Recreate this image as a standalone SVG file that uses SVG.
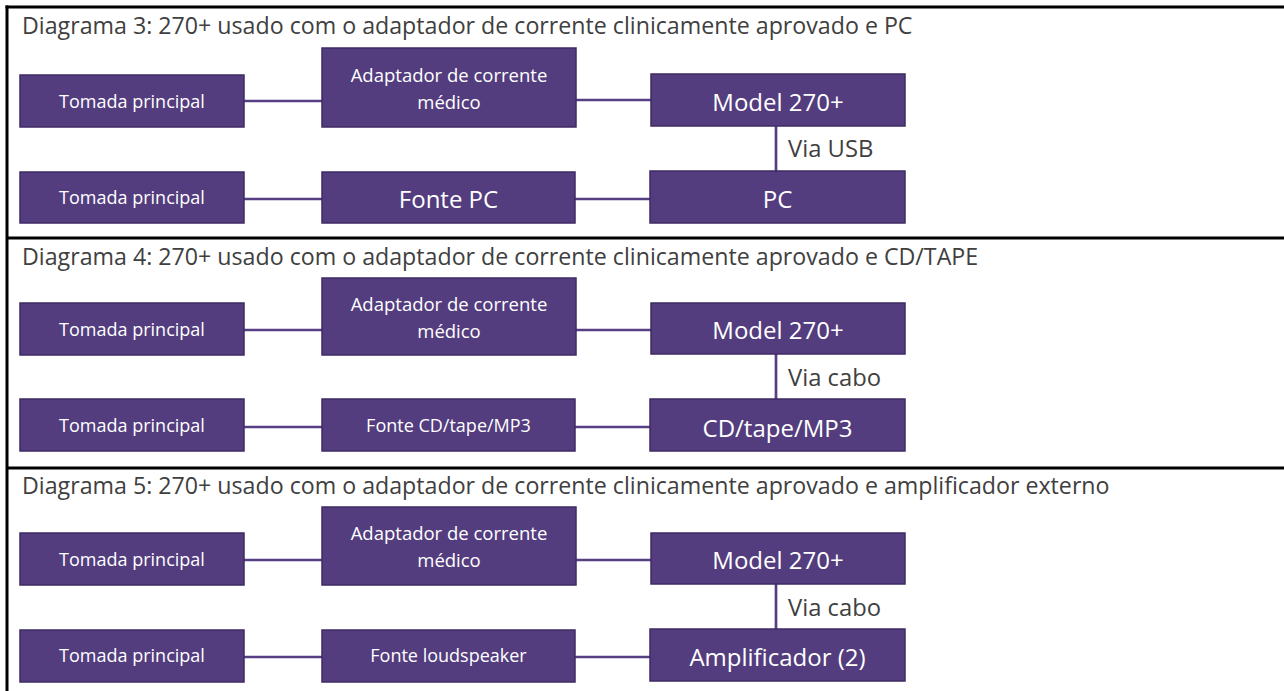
<svg xmlns="http://www.w3.org/2000/svg" width="1284" height="691" viewBox="0 0 1284 691">
<style>
.grid{stroke:#000;stroke-width:3;fill:none}
.box{fill:#533D7E;stroke:#3E2B64;stroke-width:1.5}
.conn{stroke:#563F82;stroke-width:2.7;fill:none}
.title{font-family:"Open Sans","Liberation Sans",sans-serif;font-size:23.2px;fill:#404040}
.via{font-family:"Open Sans","Liberation Sans",sans-serif;font-size:23.8px;fill:#404040}
.s{font-family:"Open Sans","Liberation Sans",sans-serif;font-size:18px;fill:#fff;text-anchor:middle}
.a{font-family:"Open Sans","Liberation Sans",sans-serif;font-size:18.5px;fill:#fff;text-anchor:middle}
.l{font-family:"Open Sans","Liberation Sans",sans-serif;font-size:24px;fill:#fff;text-anchor:middle}
</style>
<rect width="1284" height="691" fill="#fff"/>
<g id="grid">
<line class="grid" x1="5.5" y1="7" x2="1284" y2="7"/>
<line class="grid" x1="7" y1="5.5" x2="7" y2="691"/>
<line class="grid" x1="7" y1="238" x2="1284" y2="238"/>
<line class="grid" x1="7" y1="468" x2="1284" y2="468"/>
</g>
<g id="connectors">
<line class="conn" x1="244" y1="101" x2="322" y2="101"/>
<line class="conn" x1="576" y1="100" x2="651" y2="100"/>
<line class="conn" x1="776" y1="125" x2="776" y2="171"/>
<line class="conn" x1="244" y1="199" x2="322" y2="199"/>
<line class="conn" x1="575" y1="199" x2="650" y2="199"/>
<line class="conn" x1="244" y1="330" x2="322" y2="330"/>
<line class="conn" x1="576" y1="330" x2="651" y2="330"/>
<line class="conn" x1="776" y1="354" x2="776" y2="400"/>
<line class="conn" x1="244" y1="427" x2="322" y2="427"/>
<line class="conn" x1="575" y1="427" x2="650" y2="427"/>
<line class="conn" x1="244" y1="560" x2="322" y2="560"/>
<line class="conn" x1="576" y1="560" x2="651" y2="560"/>
<line class="conn" x1="776" y1="584" x2="776" y2="630"/>
<line class="conn" x1="244" y1="657" x2="322" y2="657"/>
<line class="conn" x1="575" y1="657" x2="650" y2="657"/>
</g>
<g id="labels">
<text class="title" x="22" y="34">Diagrama 3: 270+ usado com o adaptador de corrente clinicamente aprovado e PC</text>
<text class="title" x="22" y="265">Diagrama 4: 270+ usado com o adaptador de corrente clinicamente aprovado e CD/TAPE</text>
<text class="title" x="22" y="494">Diagrama 5: 270+ usado com o adaptador de corrente clinicamente aprovado e amplificador externo</text>
<text class="via" x="788" y="157">Via USB</text>
<text class="via" x="788" y="386">Via cabo</text>
<text class="via" x="788" y="616">Via cabo</text>
</g>
<g id="d3-tomada1"><rect class="box" x="20" y="75" width="224" height="52"/><text class="s" x="132" y="107.5">Tomada principal</text></g>
<g id="d3-adaptador"><rect class="box" x="322" y="48" width="254" height="79"/><text class="a" x="449" y="82">Adaptador de corrente</text><text class="a" x="449" y="109">médico</text></g>
<g id="d3-model"><rect class="box" x="651" y="74" width="254" height="52"/><text class="l" x="778" y="110.5">Model 270+</text></g>
<g id="d3-tomada2"><rect class="box" x="20" y="172" width="224" height="51"/><text class="s" x="132" y="204">Tomada principal</text></g>
<g id="d3-fonte"><rect class="box" x="322" y="172" width="253" height="51"/><text class="l" x="448.5" y="208">Fonte PC</text></g>
<g id="d3-pc"><rect class="box" x="650" y="171" width="255" height="52"/><text class="l" x="777.5" y="208">PC</text></g>

<g id="d4-tomada1"><rect class="box" x="20" y="303" width="224" height="52"/><text class="s" x="132" y="336">Tomada principal</text></g>
<g id="d4-adaptador"><rect class="box" x="322" y="278" width="254" height="77"/><text class="a" x="449" y="311">Adaptador de corrente</text><text class="a" x="449" y="338">médico</text></g>
<g id="d4-model"><rect class="box" x="651" y="303" width="254" height="51"/><text class="l" x="778" y="339">Model 270+</text></g>
<g id="d4-tomada2"><rect class="box" x="20" y="399" width="224" height="52"/><text class="s" x="132" y="432">Tomada principal</text></g>
<g id="d4-fonte"><rect class="box" x="322" y="399" width="253" height="52"/><text class="s" x="448.5" y="432">Fonte CD/tape/MP3</text></g>
<g id="d4-cd"><rect class="box" x="650" y="399" width="255" height="52"/><text class="l" x="777.5" y="437">CD/tape/MP3</text></g>

<g id="d5-tomada1"><rect class="box" x="20" y="533" width="224" height="52"/><text class="s" x="132" y="566">Tomada principal</text></g>
<g id="d5-adaptador"><rect class="box" x="322" y="507" width="254" height="78"/><text class="a" x="449" y="540">Adaptador de corrente</text><text class="a" x="449" y="567">médico</text></g>
<g id="d5-model"><rect class="box" x="651" y="533" width="254" height="51"/><text class="l" x="778" y="569">Model 270+</text></g>
<g id="d5-tomada2"><rect class="box" x="20" y="630" width="224" height="52"/><text class="s" x="132" y="662">Tomada principal</text></g>
<g id="d5-fonte"><rect class="box" x="322" y="630" width="253" height="52"/><text class="s" x="448.5" y="662">Fonte loudspeaker</text></g>
<g id="d5-amp"><rect class="box" x="650" y="629" width="255" height="52"/><text class="l" x="777.5" y="666">Amplificador (2)</text></g>
</svg>
